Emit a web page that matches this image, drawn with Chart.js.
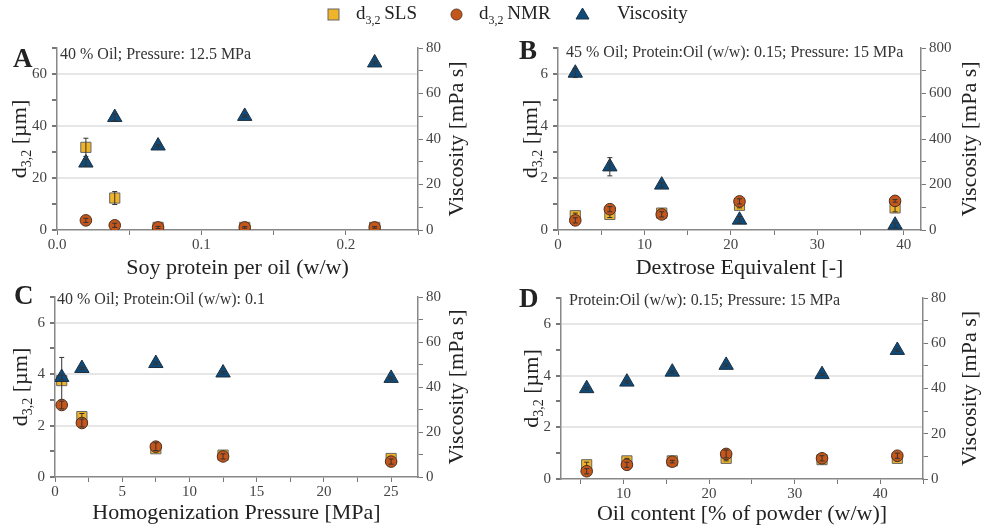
<!DOCTYPE html>
<html>
<head>
<meta charset="utf-8">
<script src="https://cdn.jsdelivr.net/npm/chart.js@4.4.1/dist/chart.umd.min.js"></script>
<style>
    body { margin: 0; background: #fff; width: 986px; height: 529px; overflow: hidden; position: relative; font-family: "Liberation Serif", serif; }
    canvas { position: absolute; }
    #legend { position: absolute; left: 0; top: 0; width: 986px; height: 30px; font-size: 19px; color: #222; z-index: 2; }
    #legend span { position: absolute; top: 2px; white-space: nowrap; }
    #legend sub { font-size: 12px; }
</style>
</head>
<body>
<div id="legend">
    <svg style="position:absolute;left:327px;top:8px" width="13" height="13"><rect x="1" y="1" width="11" height="11" fill="#f0b42a" stroke="#666"/></svg>
    <span style="left:356px">d<sub>3,2</sub>&thinsp;SLS</span>
    <svg style="position:absolute;left:450px;top:8px" width="13" height="13"><circle cx="6.5" cy="6.5" r="5.5" fill="#c4561b" stroke="#5a3a28"/></svg>
    <span style="left:479px">d<sub>3,2</sub>&thinsp;NMR</span>
    <svg style="position:absolute;left:575px;top:7px" width="15" height="13"><polygon points="7.5,1 14,12 1,12" fill="#0f4a78" stroke="#17324a"/></svg>
    <span style="left:617px">Viscosity</span>
</div>
<canvas id="panelA" width="490" height="280" style="left:0;top:0"></canvas>
<canvas id="panelB" width="496" height="280" style="left:490px;top:0"></canvas>
<canvas id="panelC" width="490" height="249" style="left:0;top:280px"></canvas>
<canvas id="panelD" width="496" height="249" style="left:490px;top:280px"></canvas>
<script>
// A: soy protein per oil
const aX = [0.02, 0.04, 0.07, 0.13, 0.22];
const aSls = [31.8, 12.3, 1.0, 1.0, 1.0];
const aSlsErr = [3.5, 2.5, 0.4, 0.3, 0.3];
const aNmr = [3.7, 1.8, 1.0, 1.0, 1.0];
const aNmrErr = [0.8, 0.8, 0.4, 0.3, 0.3];
const aVisc = [29.5, 49.5, 37, 50, 73.5];
const aViscErr = [1.5, 1.5, 0.5, 0.5, 0.5];
const aXMajor = [0, 0.1, 0.2], aXMinor = [0.05, 0.15, 0.25];
const aYMajor = [0, 20, 40, 60], aYMinor = [10, 30, 50, 70];
const aVMajor = [0, 20, 40, 60, 80], aVMinor = [10, 30, 50, 70];

// B: dextrose equivalent
const bX = [2, 6, 12, 21, 39];
const bSls = [0.55, 0.6, 0.65, 0.95, 0.85];
const bSlsErr = [0.1, 0.12, 0.1, 0.1, 0.15];
const bNmr = [0.37, 0.8, 0.6, 1.1, 1.12];
const bNmrErr = [0.1, 0.1, 0.1, 0.1, 0.05];
const bVisc = [690, 278, 198, 44, 22];
const bViscErr = [20, 40, 10, 15, 10];
const bXMajor = [0, 10, 20, 30, 40], bXMinor = [5, 15, 25, 35];
const bYMajor = [0, 2, 4, 6], bYMinor = [1, 3, 5, 7];
const bVMajor = [0, 200, 400, 600, 800], bVMinor = [100, 300, 500, 700];

// C: homogenization pressure
const cX = [0.5, 2, 7.5, 12.5, 25];
const cSls = [3.75, 2.35, 1.1, 0.85, 0.72];
const cSlsErr = [0.9, 0.12, 0.1, 0.05, 0.05];
const cNmr = [2.8, 2.1, 1.18, 0.8, 0.6];
const cNmrErr = [0.15, 0.15, 0.15, 0.1, 0.1];
const cVisc = [44.3, 48.3, 50.5, 46.3, 43.9];
const cViscErr = [1, 0.5, 0.5, 0.5, 0.5];
const cXMajor = [0, 5, 10, 15, 20, 25], cXMinor = [2.5, 7.5, 12.5, 17.5, 22.5];
const cYMajor = [0, 2, 4, 6], cYMinor = [1, 3, 5, 7];
const cVMajor = [0, 20, 40, 60, 80], cVMinor = [10, 30, 50, 70];

// D: oil content
const dX = [5.7, 10.4, 15.7, 22, 33.2, 42];
const dSls = [0.55, 0.7, 0.7, 0.8, 0.75, 0.8];
const dSlsErr = [0.1, 0.1, 0.05, 0.1, 0.05, 0.1];
const dNmr = [0.3, 0.55, 0.67, 0.97, 0.8, 0.9];
const dNmrErr = [0.1, 0.1, 0.05, 0.15, 0.1, 0.1];
const dVisc = [40, 42.9, 47.3, 50.3, 46.2, 56.9];
const dViscErr = [0.5, 0.5, 0.5, 0.5, 0.5, 0.5];
const dXMajor = [10, 20, 30, 40], dXMinor = [5, 15, 25, 35, 45];
const dYMajor = [0, 2, 4, 6], dYMinor = [1, 3, 5, 7];
const dVMajor = [0, 20, 40, 60, 80], dVMinor = [10, 30, 50, 70];

const FONT = '"Liberation Serif", "Times New Roman", serif';
const TITLE_PX = 22;

// titles, panel letter and condition note
const panelText = {
    id: 'panelText',
    afterDraw(chart, args, o) {
        const ctx = chart.ctx, a = chart.chartArea;
        const midY = (a.top + a.bottom) / 2;
        ctx.save();
        ctx.fillStyle = '#222';
        ctx.textBaseline = 'middle';
        ctx.textAlign = 'left';
        ctx.font = 'bold 27px ' + FONT;
        ctx.fillText(o.letter, o.letterX, o.letterY);
        ctx.font = '16px ' + FONT;
        ctx.fillStyle = '#333';
        ctx.fillText(o.note, a.left + o.noteDx, a.top + o.noteDy);
        ctx.fillStyle = '#222';
        ctx.font = TITLE_PX + 'px ' + FONT;
        ctx.textAlign = 'center';
        ctx.fillText(o.xTitle, (a.left + a.right) / 2, a.bottom + o.xTitleDy);
        // right title
        ctx.save();
        ctx.translate(a.right + o.rightDx, midY);
        ctx.rotate(-Math.PI / 2);
        ctx.fillText('Viscosity [mPa s]', 0, 0);
        ctx.restore();
        // left title with subscript
        ctx.save();
        ctx.translate(a.left - o.leftDx, midY);
        ctx.rotate(-Math.PI / 2);
        ctx.textAlign = 'left';
        ctx.textBaseline = 'alphabetic';
        ctx.font = TITLE_PX + 'px ' + FONT;
        const w1 = ctx.measureText('d').width, w3 = ctx.measureText(' [µm]').width;
        ctx.font = '14px ' + FONT;
        const w2 = ctx.measureText('3,2').width;
        let x0 = -(w1 + w2 + w3) / 2;
        ctx.font = TITLE_PX + 'px ' + FONT;
        ctx.fillText('d', x0, 7);
        ctx.font = '14px ' + FONT;
        ctx.fillText('3,2', x0 + w1, 12);
        ctx.font = TITLE_PX + 'px ' + FONT;
        ctx.fillText(' [µm]', x0 + w1 + w2, 7);
        ctx.restore();
        ctx.restore();
    }
};

// error bars drawn after each dataset
const errorBars = {
    id: 'errorBars',
    afterDatasetDraw(chart, args) {
        const ds = chart.data.datasets[args.index];
        if (!ds.err) return;
        const ctx = chart.ctx;
        const xs = chart.scales.x, ys = chart.scales[ds.yAxisID];
        ctx.save();
        ctx.strokeStyle = '#333';
        ctx.lineWidth = 1;
        ds.data.forEach((pt, i) => {
            const px = xs.getPixelForValue(pt.x);
            const top = ys.getPixelForValue(pt.y + ds.err[i]);
            const bot = ys.getPixelForValue(Math.max(pt.y - ds.err[i], ys.min));
            ctx.beginPath();
            ctx.moveTo(px, top); ctx.lineTo(px, bot);
            ctx.moveTo(px - 2.5, top); ctx.lineTo(px + 2.5, top);
            ctx.moveTo(px - 2.5, bot); ctx.lineTo(px + 2.5, bot);
            ctx.stroke();
        });
        ctx.restore();
    }
};

const toPoints = (xs, ys) => xs.map((v, i) => ({ x: v, y: ys[i] }));
const allTicks = (major, minor) => major.concat(minor).sort((p, q) => p - q).map(v => ({ value: v }));

const axisOpts = (major, minor, fmt, extra) => Object.assign({
    type: 'linear',
    afterBuildTicks: s => { s.ticks = allTicks(major, minor); },
    ticks: {
        autoSkip: false, maxRotation: 0, color: '#444',
        font: { family: FONT, size: 15 },
        callback: v => major.includes(v) ? fmt(v) : ''
    },
    grid: { drawOnChartArea: false, tickLength: 5, tickColor: '#777', tickWidth: 1 },
    border: { color: '#888', width: 1.5 }
}, extra);

const makePanel = (id, p) => {
    const w = p.w, h = p.h, a = p.area;
    const xAxis = axisOpts(p.xMajor, p.xMinor, p.xFmt, {
        min: p.xMin, max: p.xMax,
        afterFit: s => { s.height = h - a.bottom; }
    });
    xAxis.ticks.padding = 1;
    const yAxis = axisOpts(p.yMajor, p.yMinor, v => String(v), {
        position: 'left', min: 0, max: p.yMax,
        afterFit: s => { s.width = a.left; }
    });
    yAxis.ticks.padding = 5;
    yAxis.grid = {
        drawOnChartArea: true, tickLength: 5, tickColor: '#777', lineWidth: 2,
        color: c => (c.tick && c.tick.value !== 0 && p.yMajor.includes(c.tick.value)) ? '#e6e6e6' : 'rgba(0,0,0,0)'
    };
    const vAxis = axisOpts(p.vMajor, p.vMinor, v => String(v), {
        position: 'right', min: 0, max: p.vMax,
        afterFit: s => { s.width = w - a.right; }
    });
    vAxis.ticks.padding = 3;

    return new Chart(document.getElementById(id), {
        type: 'scatter',
        data: {
            datasets: [
                {
                    label: 'Viscosity', data: toPoints(p.x, p.visc), err: p.viscErr, yAxisID: 'y1',
                    pointStyle: 'triangle', pointRadius: 8.3, pointHoverRadius: 8.3,
                    backgroundColor: '#0f4a78', borderColor: '#1d3040', borderWidth: 1, order: 0
                },
                {
                    label: 'd3,2 NMR', data: toPoints(p.x, p.nmr), err: p.nmrErr, yAxisID: 'y',
                    pointStyle: 'circle', pointRadius: 5.8, pointHoverRadius: 5.8,
                    backgroundColor: '#c4561b', borderColor: '#4a3020', borderWidth: 1, order: 1
                },
                {
                    label: 'd3,2 SLS', data: toPoints(p.x, p.sls), err: p.slsErr, yAxisID: 'y',
                    pointStyle: 'rect', pointRadius: 7.2, pointHoverRadius: 7.2,
                    backgroundColor: '#f0b42a', borderColor: '#666', borderWidth: 1, order: 2
                }
            ]
        },
        options: {
            responsive: false,
            animation: false,
            layout: { padding: { top: a.top, left: 0, right: 0, bottom: 0 } },
            plugins: {
                legend: { display: false },
                tooltip: { enabled: false },
                panelText: p.text
            },
            scales: { x: xAxis, y: yAxis, y1: vAxis }
        },
        plugins: [panelText, errorBars]
    });
};

makePanel('panelA', {
    w: 490, h: 280, area: { left: 57, right: 418, top: 48, bottom: 230 },
    x: aX, sls: aSls, slsErr: aSlsErr, nmr: aNmr, nmrErr: aNmrErr, visc: aVisc, viscErr: aViscErr,
    xMin: 0, xMax: 0.25, yMax: 70, vMax: 80,
    xMajor: aXMajor, xMinor: aXMinor, yMajor: aYMajor, yMinor: aYMinor, vMajor: aVMajor, vMinor: aVMinor,
    xFmt: v => v.toFixed(1),
    text: { letter: 'A', letterX: 13, letterY: 60, note: '40 % Oil; Pressure: 12.5 MPa', noteDx: 3, noteDy: 7,
        xTitle: 'Soy protein per oil (w/w)', xTitleDy: 38, leftDx: 38, rightDx: 39 }
});

makePanel('panelB', {
    w: 496, h: 280, area: { left: 68, right: 431, top: 48, bottom: 230 },
    x: bX, sls: bSls, slsErr: bSlsErr, nmr: bNmr, nmrErr: bNmrErr, visc: bVisc, viscErr: bViscErr,
    xMin: 0, xMax: 42, yMax: 7, vMax: 800,
    xMajor: bXMajor, xMinor: bXMinor, yMajor: bYMajor, yMinor: bYMinor, vMajor: bVMajor, vMinor: bVMinor,
    xFmt: v => String(v),
    text: { letter: 'B', letterX: 29, letterY: 52, note: '45 % Oil; Protein:Oil (w/w): 0.15; Pressure: 15 MPa', noteDx: 8, noteDy: 5,
        xTitle: 'Dextrose Equivalent [-]', xTitleDy: 38, leftDx: 28, rightDx: 49 }
});

makePanel('panelC', {
    w: 490, h: 249, area: { left: 55, right: 418, top: 17, bottom: 197 },
    x: cX, sls: cSls, slsErr: cSlsErr, nmr: cNmr, nmrErr: cNmrErr, visc: cVisc, viscErr: cViscErr,
    xMin: 0, xMax: 27, yMax: 7, vMax: 80,
    xMajor: cXMajor, xMinor: cXMinor, yMajor: cYMajor, yMinor: cYMinor, vMajor: cVMajor, vMinor: cVMinor,
    xFmt: v => String(v),
    text: { letter: 'C', letterX: 14, letterY: 17, note: '40 % Oil; Protein:Oil (w/w): 0.1', noteDx: 2, noteDy: 3,
        xTitle: 'Homogenization Pressure [MPa]', xTitleDy: 36, leftDx: 35, rightDx: 39 }
});

makePanel('panelD', {
    w: 496, h: 249, area: { left: 71, right: 433, top: 18, bottom: 199 },
    x: dX, sls: dSls, slsErr: dSlsErr, nmr: dNmr, nmrErr: dNmrErr, visc: dVisc, viscErr: dViscErr,
    xMin: 2.7, xMax: 45, yMax: 7, vMax: 80,
    xMajor: dXMajor, xMinor: dXMinor, yMajor: dYMajor, yMinor: dYMinor, vMajor: dVMajor, vMinor: dVMinor,
    xFmt: v => String(v),
    text: { letter: 'D', letterX: 29, letterY: 20, note: 'Protein:Oil (w/w): 0.15; Pressure: 15 MPa', noteDx: 8, noteDy: 3,
        xTitle: 'Oil content [% of powder (w/w)]', xTitleDy: 35, leftDx: 30, rightDx: 47 }
});
</script>
</body>
</html>
